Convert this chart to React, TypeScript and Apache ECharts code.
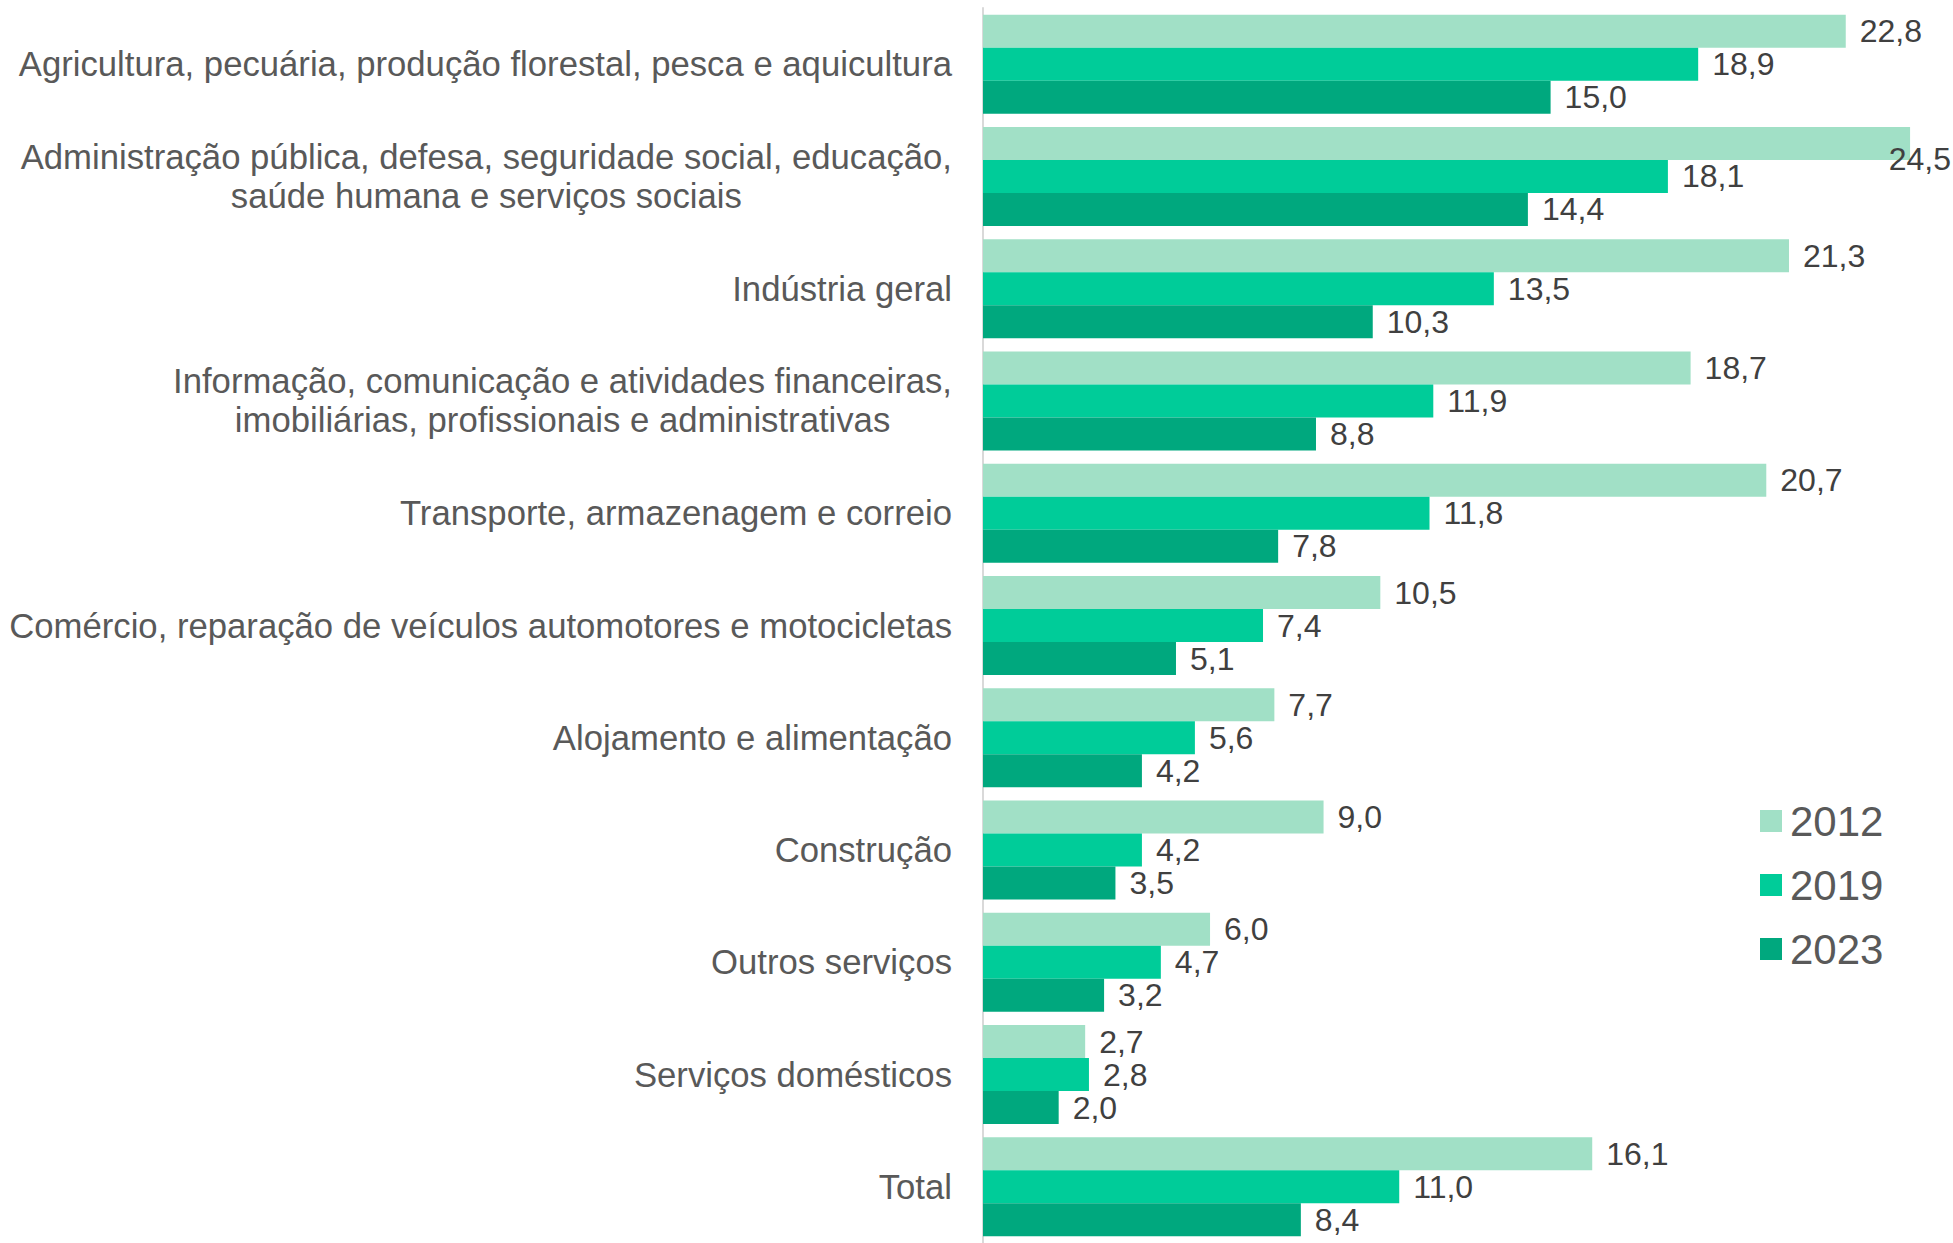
import React, { useEffect, useRef } from "react";
import * as echarts from "echarts";

const categories: string[] = [
  "Agricultura, pecuária, produção florestal, pesca e aquicultura",
  "Administração pública, defesa, seguridade social, educação,\nsaúde humana e serviços sociais",
  "Indústria geral",
  "Informação, comunicação e atividades financeiras,\nimobiliárias, profissionais e administrativas",
  "Transporte, armazenagem e correio",
  "Comércio, reparação de veículos automotores e motocicletas",
  "Alojamento e alimentação",
  "Construção",
  "Outros serviços",
  "Serviços domésticos",
  "Total",
];

const years: string[] = ["2012", "2019", "2023"];

const values2012: number[] = [22.8, 24.5, 21.3, 18.7, 20.7, 10.5, 7.7, 9.0, 6.0, 2.7, 16.1];
const values2019: number[] = [18.9, 18.1, 13.5, 11.9, 11.8, 7.4, 5.6, 4.2, 4.7, 2.8, 11.0];
const values2023: number[] = [15.0, 14.4, 10.3, 8.8, 7.8, 5.1, 4.2, 3.5, 3.2, 2.0, 8.4];

const seriesValues: number[][] = [values2012, values2019, values2023];
const seriesColors: string[] = ["#A1E0C6", "#00CC99", "#00A87E"];

const FONT = 'Arial, "Liberation Sans", sans-serif';
const W = 1953;
const H = 1243;

export default function App() {
  const ref = useRef<HTMLDivElement>(null);

  useEffect(() => {
    if (!ref.current) return;
    const chart = echarts.init(ref.current, undefined, { renderer: "svg" });

    const fmt = (v: number) => v.toFixed(1).replace(".", ",");

    chart.setOption({
      animation: false,
      backgroundColor: "#ffffff",
      textStyle: { fontFamily: FONT },
      grid: { left: 983, right: 24, top: 8, height: 1243, containLabel: false },
      legend: {
        orient: "vertical",
        left: 1755,
        top: 795,
        itemWidth: 22,
        itemHeight: 22,
        itemGap: 22,
        icon: "rect",
        selectedMode: false,
        data: years,
        itemStyle: { borderWidth: 0 },
        textStyle: {
          fontFamily: FONT,
          fontSize: 42,
          lineHeight: 42,
          color: "#595959",
          padding: [0, 0, 0, 3],
        },
      },
      xAxis: {
        type: "value",
        min: 0,
        max: 25,
        show: false,
      },
      yAxis: {
        type: "category",
        inverse: true,
        data: categories,
        axisLine: { show: true, lineStyle: { color: "#D9D9D9", width: 2 } },
        axisTick: { show: false },
        splitLine: { show: false },
        axisLabel: {
          margin: 31,
          align: "right",
          color: "#595959",
          fontFamily: FONT,
          fontSize: 34.7,
          lineHeight: 39,
          formatter: (val: string) =>
            val
              .split("\n")
              .map((l) => `{c|${l}}`)
              .join("\n"),
          rich: {
            c: {
              align: "center",
              fontFamily: FONT,
              fontSize: 34.7,
              lineHeight: 39,
              color: "#595959",
            },
          },
        },
      },
      series: years.map((y, i) => ({
        name: y,
        type: "bar",
        data: seriesValues[i],
        barGap: "0%",
        barWidth: 33,
        itemStyle: {
          color: seriesColors[i],
        },
        label: {
          show: true,
          position: "right",
          distance: 14,
          color: "#404040",
          fontFamily: FONT,
          fontSize: 32,
          formatter: (p: any) => fmt(p.value as number),
        },
        labelLayout: (p: any) => {
          const r = p.labelRect;
          if (r && r.x + r.width > W - 2) {
            return { x: W - 2 - r.width };
          }
          return {};
        },
      })),
    });

    return () => chart.dispose();
  }, []);

  return (
    <div
      ref={ref}
      style={{ position: "absolute", left: 0, top: 0, width: W, height: H }}
    />
  );
}
